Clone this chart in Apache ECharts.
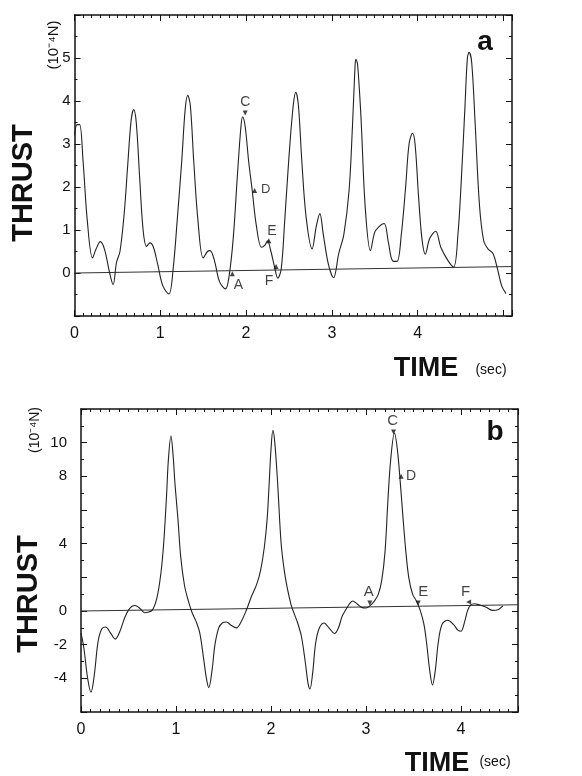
<!DOCTYPE html>
<html><head><meta charset="utf-8">
<script src="https://cdn.jsdelivr.net/npm/echarts@6/dist/echarts.min.js"></script>
<style>html,body{margin:0;padding:0;background:#fff}#c{width:582px;height:776px}</style>
</head><body><div id="c"></div>
<script>
// ---------- Panel a ----------
var timeA = [0.00,0.03,0.06,0.10,0.15,0.21,0.25,0.30,0.35,0.41,0.45,0.49,0.53,0.58,0.62,0.66,0.69,0.72,0.76,0.80,0.84,0.88,0.92,0.97,1.03,1.10,1.15,1.20,1.25,1.29,1.32,1.35,1.39,1.44,1.50,1.55,1.58,1.63,1.69,1.76,1.80,1.85,1.90,1.94,1.96,1.99,2.03,2.07,2.12,2.18,2.22,2.25,2.29,2.33,2.37,2.41,2.45,2.50,2.55,2.58,2.61,2.65,2.70,2.77,2.82,2.86,2.90,2.96,3.02,3.08,3.14,3.20,3.24,3.27,3.28,3.30,3.34,3.39,3.45,3.50,3.55,3.61,3.66,3.71,3.76,3.81,3.86,3.90,3.94,3.97,4.01,4.05,4.09,4.14,4.21,4.27,4.35,4.42,4.47,4.51,4.55,4.58,4.60,4.63,4.67,4.72,4.77,4.82,4.88,4.93,4.98,5.03];
var thrustA = [3.2,3.45,3.45,2.6,1.2,0.35,0.55,0.73,0.55,0.0,-0.27,0.25,0.5,1.4,2.5,3.55,3.8,3.5,2.2,1.0,0.62,0.7,0.6,0.2,-0.3,-0.49,0.1,1.3,2.6,3.8,4.13,3.9,2.6,1.2,0.35,0.5,0.52,0.3,-0.2,-0.37,-0.1,0.8,2.3,3.4,3.63,3.4,2.6,1.95,1.1,0.6,0.65,0.75,0.5,0.16,-0.12,0.1,1.2,2.7,3.9,4.2,3.9,2.6,1.3,0.56,1.1,1.38,0.9,0.2,-0.11,0.45,0.9,1.9,3.4,4.8,4.97,4.85,3.6,1.5,0.52,0.95,1.08,1.15,0.7,0.28,0.27,0.9,2.0,3.0,3.25,3.0,1.8,0.8,0.44,0.8,0.97,0.6,0.3,0.14,0.9,2.2,3.8,5.0,5.13,4.9,3.5,1.6,0.75,0.56,0.45,0.1,-0.3,-0.48];
var baseTimeA = [0, 5.1];
var baseThrustA = [0, 0.15];
var annoNamesA = ['C','D','E','F','A'];
var annoTimeA = [1.99, 2.10, 2.265, 2.35, 1.84];
var annoThrustA = [3.72, 1.92, 0.75, 0.15, -0.02];
var tickLabelsXA = [0,1,2,3,4];
var tickLabelsYA = [0,1,2,3,4,5];

// ---------- Panel b ----------
var timeB = [0.00,0.03,0.07,0.105,0.14,0.18,0.22,0.26,0.31,0.36,0.41,0.46,0.50,0.54,0.57,0.62,0.67,0.70,0.75,0.80,0.84,0.87,0.90,0.92,0.947,0.97,0.99,1.02,1.05,1.09,1.13,1.17,1.21,1.25,1.29,1.32,1.345,1.38,1.41,1.45,1.49,1.53,1.58,1.635,1.68,1.74,1.79,1.85,1.89,1.93,1.96,1.98,2.00,2.02,2.04,2.07,2.09,2.11,2.14,2.17,2.21,2.24,2.28,2.32,2.36,2.39,2.41,2.44,2.47,2.51,2.56,2.61,2.67,2.71,2.75,2.79,2.83,2.86,2.91,2.96,3.00,3.04,3.09,3.13,3.165,3.20,3.23,3.26,3.30,3.33,3.36,3.39,3.42,3.45,3.49,3.53,3.57,3.61,3.64,3.67,3.70,3.73,3.76,3.80,3.86,3.92,3.97,4.00,4.04,4.07,4.10,4.14,4.20,4.26,4.33,4.39,4.44];
var thrustB = [-1.3,-2.2,-4.0,-4.83,-3.8,-1.8,-1.05,-0.95,-1.3,-1.67,-1.2,-0.4,0.05,0.3,0.33,0.15,-0.1,-0.08,0.05,0.8,2.2,4.0,6.8,9.0,10.4,9.2,7.5,5.5,3.2,1.5,0.6,-0.1,-0.6,-1.3,-2.8,-4.0,-4.55,-3.5,-2.0,-1.0,-0.7,-0.65,-0.85,-1.0,-0.7,0.04,0.8,1.6,2.4,3.8,5.5,7.5,9.6,10.73,10.0,7.6,5.5,3.8,2.4,1.4,0.4,-0.1,-0.7,-1.5,-3.0,-4.3,-4.63,-3.6,-1.9,-1.0,-0.71,-1.0,-1.34,-1.0,-0.3,0.1,0.45,0.59,0.4,0.2,0.18,0.3,0.6,1.0,1.8,3.5,6.5,9.0,10.57,9.6,7.7,5.5,3.5,2.0,1.0,0.6,0.05,-0.8,-2.0,-3.5,-4.39,-3.5,-1.9,-0.8,-0.55,-0.8,-1.15,-1.2,-0.6,0.04,0.35,0.43,0.35,0.24,0.04,0.08,0.3];
var baseTimeB = [0, 4.6];
var baseThrustB = [0, 0.37];
var annoNamesB = ['C','D','A','E','F'];
var annoTimeB = [3.29, 3.37, 3.04, 3.55, 4.08];
var annoThrustB = [10.63, 8.0, 0.48, 0.48, 0.53];
var tickLabelsXB = [0,1,2,3,4];
var tickLabelsYB = [-4,-2,0,4,8,10];

function pairs(xs, ys){ return xs.map(function(x,i){return [x, ys[i]];}); }

var FONT = 'Liberation Sans, Arial, Helvetica, sans-serif';
var INK = '#111';

function xAx(grid, min, max, pos, labels){
  return {
    type:'value', gridIndex:grid, min:min, max:max, interval:1, position:pos,
    axisLine:{show:true, onZero:false, lineStyle:{color:INK, width:1.5}},
    axisTick:{show:true, inside:true, length:6, lineStyle:{color:INK}},
    minorTick:{show:true, splitNumber:10, length:3, lineStyle:{color:INK}},
    splitLine:{show:false}, minorSplitLine:{show:false},
    axisLabel:{show:!!labels, margin:10, fontSize:16, color:INK, fontFamily:FONT,
      formatter:function(v){ return labels && labels.indexOf(Math.round(v*100)/100)>=0 ? String(v) : ''; }}
  };
}
function yAx(grid, min, max, interval, minorSplit, pos, labels, margin){
  return {
    type:'value', gridIndex:grid, min:min, max:max, interval:interval, position:pos,
    axisLine:{show:true, onZero:false, lineStyle:{color:INK, width:1.5}},
    axisTick:{show:true, inside:true, length:6, lineStyle:{color:INK}},
    minorTick:{show:true, splitNumber:minorSplit, length:3, lineStyle:{color:INK}},
    splitLine:{show:false}, minorSplitLine:{show:false},
    axisLabel:{show:!!labels, margin:margin, fontSize:15, color:INK, fontFamily:FONT,
      formatter:function(v){ return labels && labels.indexOf(Math.round(v*100)/100)>=0 ? String(v) : ''; }}
  };
}

var labelStyleA = {
  C:{offset:[0,-11], size:14, rot:180},
  D:{offset:[11,-1], size:13, rot:0},
  E:{offset:[3,-10], size:14, rot:0},
  F:{offset:[-7,15], size:14, rot:0},
  A:{offset:[6,11], size:14, rot:0}
};
var labelStyleB = {
  C:{offset:[-1,-11], size:15, rot:180},
  D:{offset:[10,0], size:14, rot:0},
  A:{offset:[-1,-11], size:15, rot:180},
  E:{offset:[5,-11], size:15, rot:180},
  F:{offset:[-3,-10], size:15, rot:90}
};

function annoSeries(names, ts, vs, styles, xi, yi){
  return names.map(function(n,i){
    var s = styles[n];
    return {
      type:'scatter', xAxisIndex:xi, yAxisIndex:yi, symbol:'triangle', symbolSize:5,
      symbolRotate:s.rot, itemStyle:{color:INK}, z:5, silent:true,
      label:{show:true, position:'inside', offset:s.offset, formatter:n, fontSize:s.size,
        color:INK, fontFamily:FONT},
      data:[[ts[i], vs[i]]]
    };
  });
}

var chart = echarts.init(document.getElementById('c'), null, {renderer:'canvas'});
var series = [
  {type:'line', xAxisIndex:0, yAxisIndex:0, data:pairs(timeA, thrustA), smooth:0.35, showSymbol:false,
   lineStyle:{color:'#222', width:1.1}, silent:true, z:3},
  {type:'line', xAxisIndex:0, yAxisIndex:0, data:pairs(baseTimeA, baseThrustA), showSymbol:false,
   lineStyle:{color:'#333', width:1}, silent:true, z:2},
  {type:'line', xAxisIndex:2, yAxisIndex:2, data:pairs(timeB, thrustB), smooth:0.35, showSymbol:false,
   lineStyle:{color:'#222', width:1.1}, silent:true, z:3},
  {type:'line', xAxisIndex:2, yAxisIndex:2, data:pairs(baseTimeB, baseThrustB), showSymbol:false,
   lineStyle:{color:'#333', width:1}, silent:true, z:2}
].concat(annoSeries(annoNamesA, annoTimeA, annoThrustA, labelStyleA, 0, 0))
 .concat(annoSeries(annoNamesB, annoTimeB, annoThrustB, labelStyleB, 2, 2));

var option = {
  backgroundColor:'#fff',
  animation:false,
  grid:[
    {left:74.5, right:70, top:15, bottom:460},
    {left:81, right:64, top:409, bottom:64}
  ],
  xAxis:[
    xAx(0, 0, 5.1, 'bottom', tickLabelsXA),
    xAx(0, 0, 5.1, 'top', null),
    xAx(1, 0, 4.6, 'bottom', tickLabelsXB),
    xAx(1, 0, 4.6, 'top', null)
  ],
  yAxis:[
    yAx(0, -1, 6, 1, 2, 'left', tickLabelsYA, 4),
    yAx(0, -1, 6, 1, 2, 'right', null, 4),
    yAx(1, -6, 12, 2, 2, 'left', tickLabelsYB, 14),
    yAx(1, -6, 12, 2, 2, 'right', null, 14)
  ],
  series: series,
  graphic:[
    {type:'text', x:24, y:183, rotation:Math.PI/2, style:{text:'THRUST', font:'bold 29px '+FONT, fill:INK, textAlign:'center', textVerticalAlign:'middle'}},
    {type:'text', x:54, y:45, rotation:Math.PI/2, style:{text:'(10\u207B\u2074N)', font:'15px '+FONT, fill:INK, textAlign:'center', textVerticalAlign:'middle'}},
    {type:'text', x:426, y:369, style:{text:'TIME', font:'bold 27px '+FONT, fill:INK, textAlign:'center', textVerticalAlign:'middle'}},
    {type:'text', x:491, y:370, style:{text:'(sec)', font:'14px '+FONT, fill:INK, textAlign:'center', textVerticalAlign:'middle'}},
    {type:'text', x:485, y:42, style:{text:'a', font:'bold 28px '+FONT, fill:INK, textAlign:'center', textVerticalAlign:'middle'}},
    {type:'text', x:29, y:594, rotation:Math.PI/2, style:{text:'THRUST', font:'bold 29px '+FONT, fill:INK, textAlign:'center', textVerticalAlign:'middle'}},
    {type:'text', x:35, y:430, rotation:Math.PI/2, style:{text:'(10\u207B\u2074N)', font:'14px '+FONT, fill:INK, textAlign:'center', textVerticalAlign:'middle'}},
    {type:'text', x:437, y:764, style:{text:'TIME', font:'bold 27px '+FONT, fill:INK, textAlign:'center', textVerticalAlign:'middle'}},
    {type:'text', x:495, y:762, style:{text:'(sec)', font:'14px '+FONT, fill:INK, textAlign:'center', textVerticalAlign:'middle'}},
    {type:'text', x:495, y:432, style:{text:'b', font:'bold 28px '+FONT, fill:INK, textAlign:'center', textVerticalAlign:'middle'}}
  ]
};
chart.setOption(option);
</script>
</body></html>
